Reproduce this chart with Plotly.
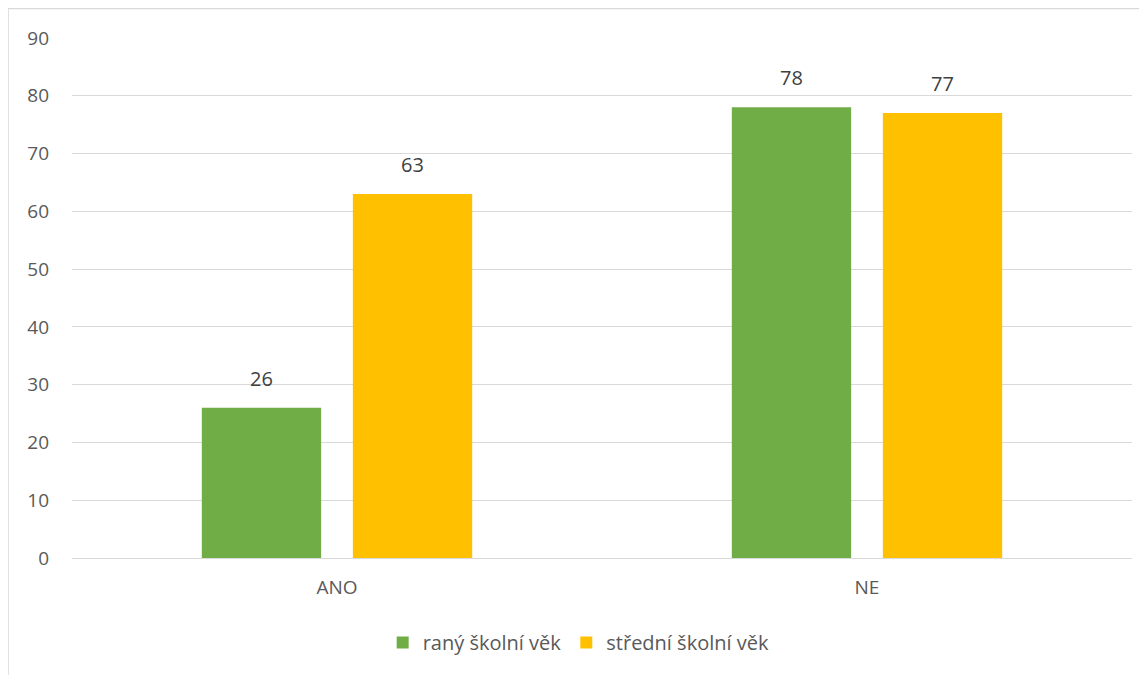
import plotly.graph_objects as go

categories = ["ANO", "NE"]
series_names = ["raný školní věk", "střední školní věk"]
rany = [26, 78]
stredni = [63, 77]
colors = ["#70AD47", "#FFC000"]
y_ticks = [0, 10, 20, 30, 40, 50, 60, 70, 80, 90]

FONT = "Open Sans, Liberation Sans, sans-serif"

# page body has 8px margin; plot area in window: x 72..1132, y 37.5..558
L, T, R, B = 64, 29.5, 23, 125
PW = 1147 - L - R
PH = 675 - T - B

fig = go.Figure()
annotations = []
for i, (name, vals, col) in enumerate(zip(series_names, [rany, stredni], colors)):
    fig.add_trace(go.Bar(
        x=categories, y=vals, name=name, marker=dict(color=col, line=dict(width=0)),
    ))
    shift = (-1 if i == 0 else 1) * 75.5
    for c, v in zip(categories, vals):
        annotations.append(dict(
            x=c, y=v, xref="x", yref="y", text=str(v), showarrow=False,
            xshift=shift, yshift=14, yanchor="bottom",
            font=dict(family=FONT, size=20, color="#404040"),
        ))

fig.update_layout(
    width=1147, height=675,
    paper_bgcolor="white", plot_bgcolor="white",
    margin=dict(l=L, r=R, t=T, b=B),
    barmode="group", bargap=0.43, bargroupgap=0.21,
    font=dict(family=FONT, size=19, color="#595959"),
    showlegend=True,
    legend=dict(orientation="h", x=0.478, xanchor="center", y=-0.125, yanchor="top",
                font=dict(family=FONT, size=20, color="#595959"), itemwidth=30,
                traceorder="normal"),
    xaxis=dict(showgrid=False, showline=False, zeroline=False, ticks="",
               ticklabelstandoff=16, tickfont=dict(size=19, color="#595959")),
    yaxis=dict(range=[0, 90], tickvals=y_ticks, showgrid=True, gridcolor="#D9D9D9",
               gridwidth=1, zeroline=True, zerolinecolor="#D9D9D9", zerolinewidth=1,
               showline=False, ticks="", ticklabelstandoff=22,
               tickfont=dict(size=19, color="#595959")),
    annotations=annotations,
    shapes=[dict(type="rect", xref="paper", yref="paper",
                 x0=-L / PW, x1=1.2, y0=-0.4, y1=1 + T / PH,
                 line=dict(color="#D9D9D9", width=1.5), fillcolor="rgba(0,0,0,0)",
                 layer="below")],
)

fig.write_html("out.html")
